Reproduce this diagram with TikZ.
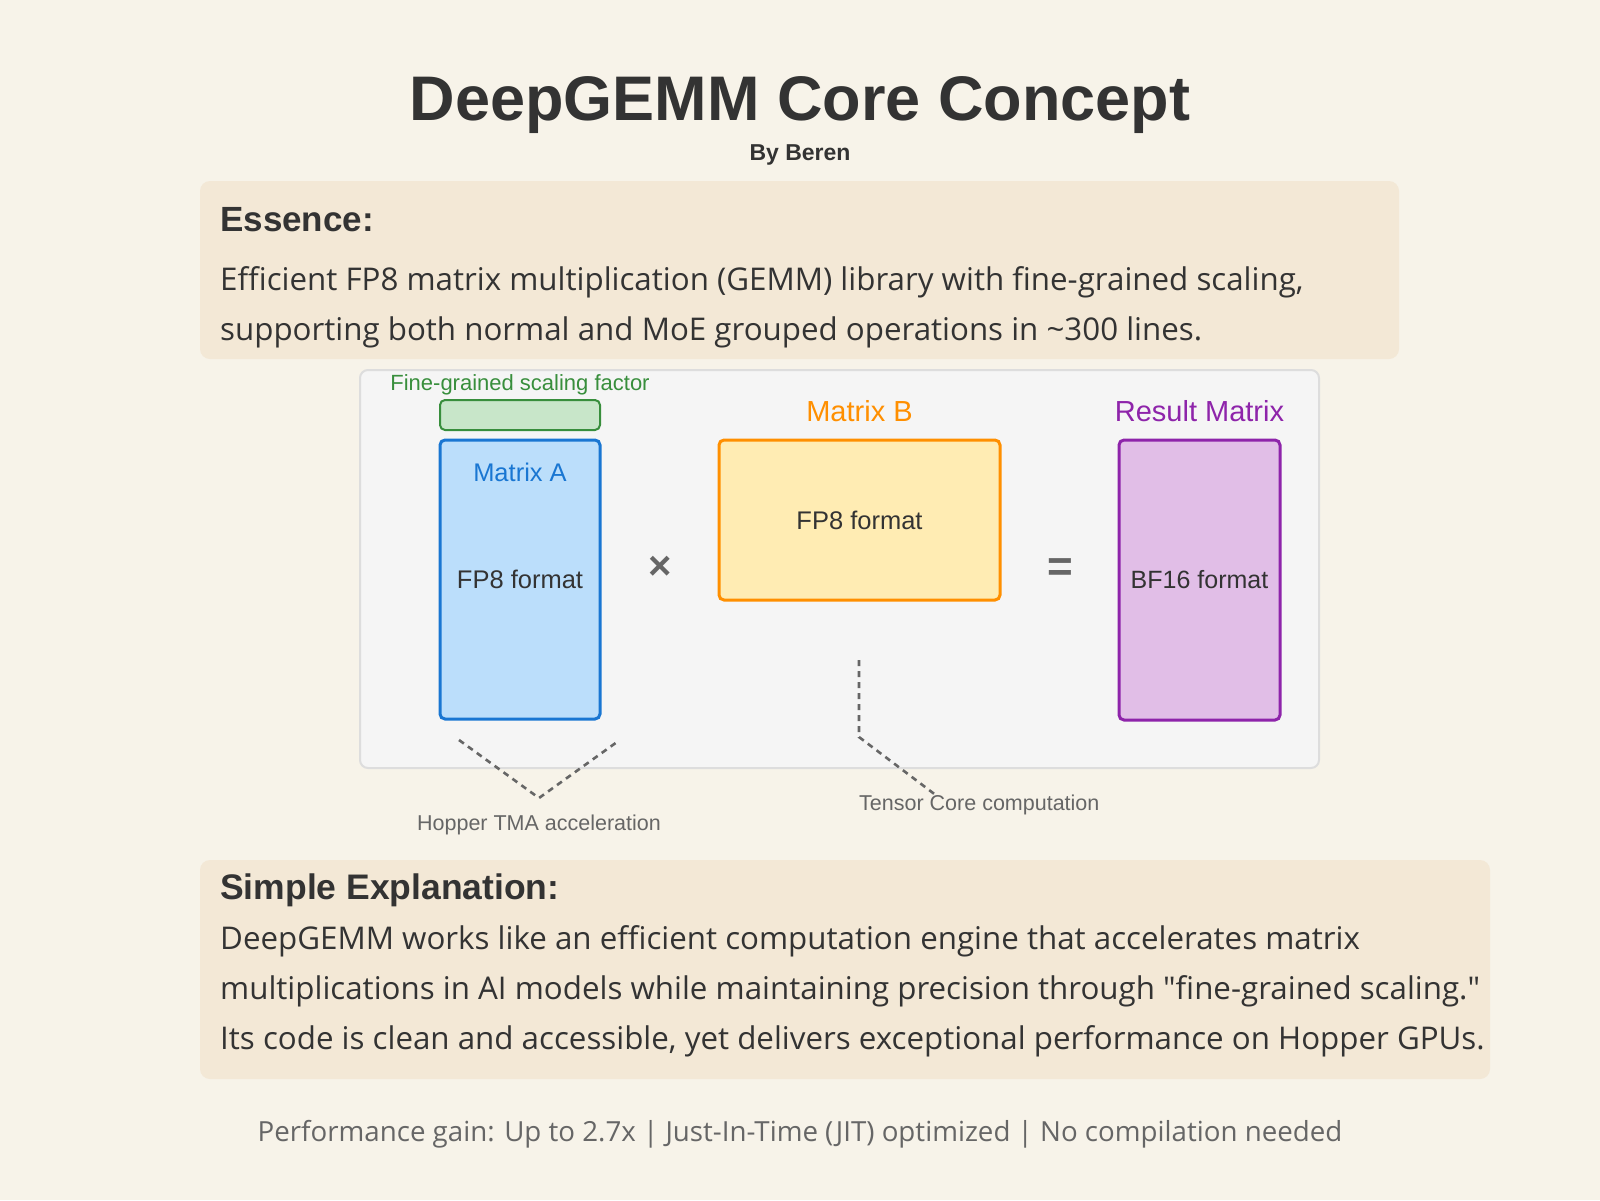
\documentclass[tikz,border=0pt]{standalone}
\usepackage{fontspec}
\setmainfont{Liberation Sans}
\newfontfamily\bodyfont{Open Sans}
\usepackage{tikz}
\definecolor{pagebg}{HTML}{F7F3E9}
\definecolor{boxbg}{HTML}{F3E8D6}
\definecolor{ink}{HTML}{333333}
\definecolor{grayink}{HTML}{666666}
\definecolor{panelbg}{HTML}{F5F5F5}
\definecolor{panelrule}{HTML}{DDDDDD}
\definecolor{aFill}{HTML}{BBDEFB}
\definecolor{aDraw}{HTML}{1976D2}
\definecolor{bFill}{HTML}{FFECB3}
\definecolor{bDraw}{HTML}{FF8F00}
\definecolor{cFill}{HTML}{E1BEE7}
\definecolor{cDraw}{HTML}{8E24AA}
\definecolor{sFill}{HTML}{C8E6C9}
\definecolor{sDraw}{HTML}{388E3C}
\newcommand{\fsz}[1]{\fontsize{#1}{#1}\selectfont}

\begin{document}
\begin{tikzpicture}[x=1pt,y=-1pt,
  txt/.style={inner sep=0pt,anchor=base west,text=ink},
  mid/.style={inner sep=0pt,anchor=base},
  bigbox/.style={fill=boxbg,rounded corners=10pt,inner sep=0pt},
  mat/.style={draw,line width=3pt,rounded corners=5pt,inner sep=0pt,text=ink,font=\fsz{25.5}},
  hint/.style={draw=grayink,line width=2.6pt,dash pattern=on 6pt off 5pt}]
\fill[pagebg] (0,0) rectangle (1600,1200);
\useasboundingbox (0,0) rectangle (1600,1200);

\node[mid,text=ink,font=\bfseries\fsz{63}] (Title) at (800,120) {DeepGEMM Core Concept};
\node[mid,text=ink,font=\bfseries\fsz{23}] (Author) at (800,160) {By Beren};

\node[bigbox,minimum width=1199pt,minimum height=178pt] (EssBox) at (799.5,270) {};
\node[txt,font=\bfseries\fsz{35}] (EssHead) at (220,231) {Essence:};
\node[txt,font=\bodyfont\fsz{31.3}] (Ess1) at (220,290) {Efficient FP8 matrix multiplication (GEMM) library with fine-grained scaling,};
\node[txt,font=\bodyfont\fsz{31.3}] (Ess2) at (220,340) {supporting both normal and MoE grouped operations in \textasciitilde300 lines.};

\node[fill=panelbg,draw=panelrule,line width=2pt,rounded corners=8pt,minimum width=959pt,minimum height=398pt,inner sep=0pt] (Panel) at (839.5,569) {};

\node[mid,text=sDraw,font=\fsz{22}] (ScaleLbl) at (520,390) {Fine-grained scaling factor};
\node[mat,line width=2pt,draw=sDraw,fill=sFill,minimum width=160pt,minimum height=30pt] (Scale) at (520,415) {};
\node[mat,draw=aDraw,fill=aFill,minimum width=160pt,minimum height=279pt] (MatA) at (520,579.5) {FP8 format};
\node[mid,text=aDraw,font=\fsz{25.5}] (MatALbl) at (520,481) {Matrix A};

\node[mid,text=grayink,font=\bfseries\fsz{40}] (Times) at (660,579) {×};

\node[mid,text=bDraw,font=\fsz{29}] (MatBLbl) at (859.5,421) {Matrix B};
\node[mat,draw=bDraw,fill=bFill,minimum width=281pt,minimum height=160pt] (MatB) at (859.5,520) {FP8 format};

\node[mid,text=grayink,font=\bfseries\fsz{44}] (Equals) at (1060,581) {=};

\node[mid,text=cDraw,font=\fsz{29}] (MatCLbl) at (1199.5,421) {Result Matrix};
\node[mat,draw=cDraw,fill=cFill,minimum width=161pt,minimum height=280pt,font=\fsz{25}] (MatC) at (1199.5,580) {BF16 format};

\coordinate (hopL) at (459,740);
\coordinate (hopV) at (539,798);
\coordinate (hopR) at (617,742);
\draw[hint] (hopL) -- (hopV) -- (hopR);
\node[mid,text=grayink,font=\fsz{21.5}] (HopLbl) at (539,830) {Hopper TMA acceleration};

\coordinate (tcTop) at (859,660);
\coordinate (tcBend) at (859,737);
\coordinate (tcEnd) at (937,796);
\draw[hint] (tcTop) -- (tcBend) -- (tcEnd);
\node[txt,text=grayink,font=\fsz{21.5}] (TcLbl) at (859,810) {Tensor Core computation};

\node[bigbox,minimum width=1290pt,minimum height=219pt] (SimpBox) at (845,969.5) {};
\node[txt,font=\bfseries\fsz{35.5}] (SimpHead) at (220,899) {Simple Explanation:};
\node[txt,font=\bodyfont\fsz{31.3}] (Simp1) at (220,949) {DeepGEMM works like an efficient computation engine that accelerates matrix};
\node[txt,font=\bodyfont\fsz{31.3}] (Simp2) at (220,999) {multiplications in AI models while maintaining precision through \textquotedbl fine-grained scaling.\textquotedbl};
\node[txt,font=\bodyfont\fsz{31.3}] (Simp3) at (220,1049) {Its code is clean and accessible, yet delivers exceptional performance on Hopper GPUs.};

\node[mid,text=grayink,font=\bodyfont\fsz{27.7}] (Footer) at (800,1141) {Performance gain: Up to 2.7x | Just-In-Time (JIT) optimized | No compilation needed};
\end{tikzpicture}
\end{document}
